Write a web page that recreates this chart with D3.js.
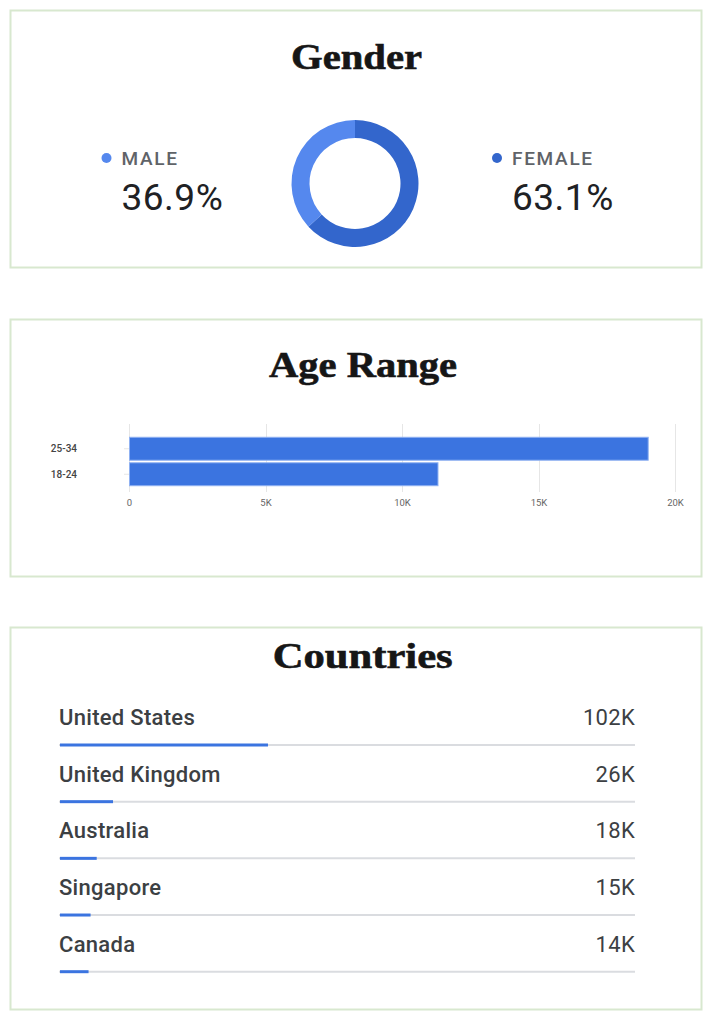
<!DOCTYPE html>
<html>
<head>
<meta charset="utf-8">
<script src="https://cdn.jsdelivr.net/npm/d3@7"></script>
<style>
  body { margin: 0; background: #fff; }
  .title { font-family: "Liberation Serif", serif; font-weight: bold; fill: #161616; }
</style>
</head>
<body>
<div id="chart"></div>
<script>
// gender
var genderLabels = ["MALE", "FEMALE"];
var genderValues = [36.9, 63.1];

// age range
var ageLabels = ["25-34", "18-24"];
var ageValues = [19000, 11300];
var ageTicks = [0, 5000, 10000, 15000, 20000];

// countries
var countryNames = ["United States", "United Kingdom", "Australia", "Singapore", "Canada"];
var countryValues = [102000, 26000, 18000, 15000, 14000];
var countryLabels = ["102K", "26K", "18K", "15K", "14K"];
var countryTotal = 282000;

var width = 718, height = 1022;
var genderColors = ["#5588ee", "#3366cc"];
var barColor = "#3b74e0";

var svg = d3.select("#chart").append("svg")
  .attr("width", width)
  .attr("height", height);

/* panels */
var panels = [[10, 267], [319, 576], [627, 1009]];
svg.selectAll(".panel")
  .data(panels).enter()
  .append("rect")
  .attr("class", "panel")
  .attr("x", 10.5)
  .attr("y", d => d[0] + 0.5)
  .attr("width", 691)
  .attr("height", d => d[1] - d[0])
  .attr("fill", "none")
  .attr("stroke", "#d8e8cf")
  .attr("stroke-width", 2);

function title(txt, cx, y, len) {
  svg.append("text")
    .attr("class", "title")
    .attr("x", cx)
    .attr("y", y)
    .attr("text-anchor", "middle")
    .attr("textLength", len)
    .attr("lengthAdjust", "spacingAndGlyphs")
    .style("font-size", "36px")
    .style("stroke", "#161616")
    .style("stroke-width", "0.6px")
    .text(txt);
}

/* Gender */
title("Gender", 356.5, 69, 131);

var pie = d3.pie().sort(null).value(i => genderValues[i]);
var arcs = pie([1, 0]); // female first so male ends at 12 o'clock
var arc = d3.arc().innerRadius(45.5).outerRadius(63.5);

svg.append("g")
  .attr("transform", "translate(355,183.5)")
  .selectAll("path")
  .data(arcs).enter()
  .append("path")
  .attr("d", arc)
  .attr("fill", d => genderColors[d.data]);

var legendX = [121.5, 512];
var legend = svg.selectAll(".legend")
  .data(genderLabels).enter()
  .append("g")
  .attr("class", "legend")
  .attr("transform", (d, i) => `translate(${legendX[i]},0)`);

legend.append("circle")
  .attr("cx", -15)
  .attr("cy", 158)
  .attr("r", 5)
  .attr("fill", (d, i) => genderColors[i]);

legend.append("text")
  .attr("x", 0)
  .attr("y", 165)
  .style("font-family", "Roboto")
  .style("font-weight", 500)
  .style("font-size", "19px")
  .style("letter-spacing", "1.7px")
  .attr("fill", "#5f6368")
  .text(d => d);

legend.append("text")
  .attr("x", 0)
  .attr("y", 210)
  .style("font-family", "Roboto")
  .style("font-size", "37px")
  .style("letter-spacing", "0.5px")
  .attr("fill", "#202124")
  .text((d, i) => genderValues[i].toFixed(1) + "%");

/* Age Range */
title("Age Range", 363, 377, 188);

var xAge = d3.scaleLinear()
  .domain([0, 20000])
  .range([129, 675]);

var yAge = d3.scaleBand()
  .domain(ageLabels)
  .range([436, 487])
  .paddingInner(0.1)
  .paddingOuter(0.05);

var age = svg.append("g");

age.selectAll(".grid")
  .data(ageTicks).enter()
  .append("line")
  .attr("class", "grid")
  .attr("x1", d => Math.round(xAge(d)) + 0.5)
  .attr("x2", d => Math.round(xAge(d)) + 0.5)
  .attr("y1", 424)
  .attr("y2", 492)
  .attr("stroke", "#e6e6e6");

age.selectAll(".ytick")
  .data(ageLabels).enter()
  .append("line")
  .attr("x1", xAge(0) - 5)
  .attr("x2", xAge(0))
  .attr("y1", d => yAge(d) + yAge.bandwidth() / 2)
  .attr("y2", d => yAge(d) + yAge.bandwidth() / 2)
  .attr("stroke", "#e6e6e6");

age.selectAll(".bar")
  .data(ageValues).enter()
  .append("rect")
  .attr("class", "bar")
  .attr("x", xAge(0) + 0.5)
  .attr("y", (d, i) => yAge(ageLabels[i]))
  .attr("width", d => xAge(d) - xAge(0))
  .attr("height", yAge.bandwidth())
  .attr("fill", barColor)
  .attr("stroke", "#8fb1f2")
  .attr("stroke-width", 1);

var xAxis = d3.axisBottom(xAge)
  .tickValues(ageTicks)
  .tickSize(0)
  .tickPadding(0)
  .tickFormat(d => d === 0 ? "0" : d / 1000 + "K");

var xg = age.append("g")
  .attr("transform", "translate(0,499)")
  .call(xAxis);
xg.select(".domain").remove();
xg.selectAll("text")
  .attr("dy", "0.71em")
  .style("font-family", "Roboto")
  .style("font-size", "9.5px")
  .attr("fill", "#666");

age.selectAll(".ylabel")
  .data(ageLabels).enter()
  .append("text")
  .attr("x", 77)
  .attr("y", d => yAge(d) + yAge.bandwidth() / 2)
  .attr("dy", "0.35em")
  .attr("text-anchor", "end")
  .style("font-family", "Roboto")
  .style("font-weight", 500)
  .style("font-size", "10px")
  .attr("fill", "#444")
  .text(d => d);

/* Countries */
title("Countries", 362.7, 668, 180);

var xCountry = d3.scaleLinear()
  .domain([0, countryTotal])
  .range([60, 635]);

var yCountry = d3.scalePoint()
  .domain(countryNames)
  .range([745, 971.7]);

var rows = svg.selectAll(".row")
  .data(countryNames).enter()
  .append("g")
  .attr("class", "row")
  .attr("transform", d => `translate(0,${yCountry(d)})`);

rows.append("line")
  .attr("x1", 59)
  .attr("x2", 635)
  .attr("y1", 0)
  .attr("y2", 0)
  .attr("stroke", "#dadce0")
  .attr("stroke-width", 2);

rows.append("rect")
  .attr("x", xCountry(0))
  .attr("y", -1.5)
  .attr("width", (d, i) => xCountry(countryValues[i]) - xCountry(0))
  .attr("height", 3)
  .attr("fill", barColor);

rows.append("text")
  .attr("x", 59)
  .attr("y", -20)
  .style("font-family", "Roboto")
  .style("font-weight", 500)
  .style("font-size", "22px")
  .style("letter-spacing", "0.3px")
  .attr("fill", "#3c4043")
  .text(d => d);

rows.append("text")
  .attr("x", 635)
  .attr("y", -20)
  .attr("text-anchor", "end")
  .style("font-family", "Roboto")
  .style("font-size", "22px")
  .style("letter-spacing", "0.3px")
  .attr("fill", "#3c4043")
  .text((d, i) => countryLabels[i]);
</script>
</body>
</html>
